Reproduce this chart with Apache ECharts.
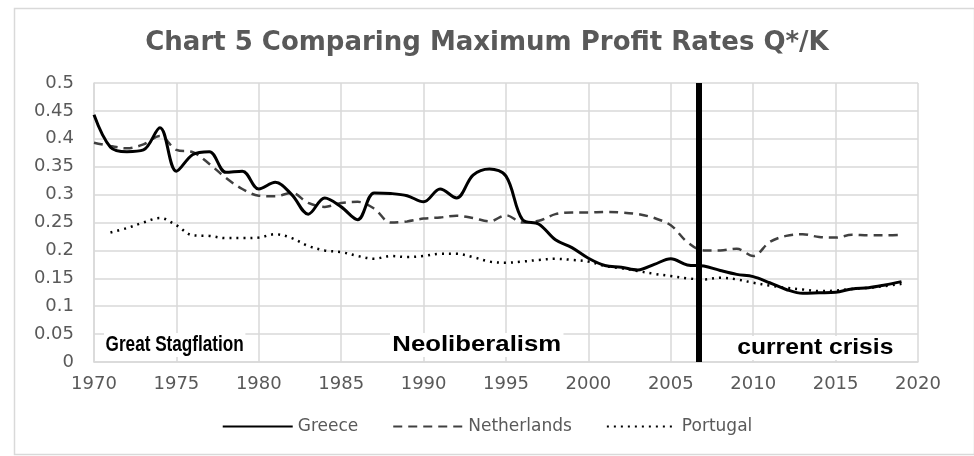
<!DOCTYPE html>
<html>
<head>
<meta charset="utf-8">
<script src="https://cdn.jsdelivr.net/npm/echarts@6/dist/echarts.min.js"></script>
<style>
  html, body { margin: 0; padding: 0; background: #fff; }
  #pic1 { width: 974px; height: 456px; }
</style>
</head>
<body>
<div id="pic1"></div>
<script>
var years = [];
for (var y = 1970; y <= 2019; y++) years.push(y);

var greece = [0.443, 0.385, 0.377, 0.38, 0.42, 0.342, 0.372, 0.377, 0.34, 0.342,
    0.31, 0.322, 0.3, 0.265, 0.294, 0.278, 0.255, 0.303, 0.302, 0.298,
    0.287, 0.31, 0.294, 0.335, 0.346, 0.333, 0.255, 0.247, 0.219, 0.205,
    0.186, 0.173, 0.17, 0.165, 0.175, 0.185, 0.174, 0.172, 0.164, 0.157,
    0.153, 0.142, 0.13, 0.123, 0.124, 0.125, 0.131, 0.133, 0.138, 0.144];

var netherlands = [0.393, 0.387, 0.383, 0.39, 0.405, 0.38, 0.376, 0.355, 0.33, 0.31,
    0.298, 0.297, 0.303, 0.285, 0.278, 0.285, 0.287, 0.275, 0.25, 0.252,
    0.257, 0.259, 0.262, 0.258, 0.252, 0.263, 0.25, 0.253, 0.265, 0.268,
    0.268, 0.269, 0.268, 0.265, 0.258, 0.245, 0.215, 0.2, 0.2, 0.203,
    0.19, 0.215, 0.226, 0.229, 0.224, 0.223, 0.228, 0.227, 0.227, 0.228];

var portugal = [null, 0.232, 0.24, 0.25, 0.258, 0.245, 0.227, 0.226, 0.222, 0.222,
    0.223, 0.229, 0.222, 0.208, 0.2, 0.197, 0.19, 0.185, 0.19, 0.188,
    0.19, 0.194, 0.194, 0.188, 0.18, 0.178, 0.18, 0.183, 0.185, 0.183,
    0.18, 0.172, 0.168, 0.163, 0.158, 0.154, 0.15, 0.148, 0.151, 0.148,
    0.142, 0.137, 0.133, 0.13, 0.127, 0.128, 0.131, 0.133, 0.136, 0.14];

var crisisYear = 2006.7;

function pairs(vals) {
    return years.map(function (yr, i) { return [yr, vals[i]]; });
}

var myChart = echarts.init(document.getElementById('pic1'));

var grayText = '#595959';
var gridColor = '#d9d9d9';
var labelFont = 'bold 22px "Liberation Sans", sans-serif';

var option = {
    backgroundColor: '#fff',
    animation: false,
    title: {
        text: 'Chart 5 Comparing Maximum Profit Rates Q*/K',
        left: 'center',
        top: 25,
        textStyle: {
            color: grayText,
            fontFamily: 'DejaVu Sans',
            fontWeight: 'bold',
            fontSize: 26
        }
    },
    grid: {
        left: 94,
        right: 56,
        top: 83,
        bottom: 94
    },
    legend: {
        bottom: 16,
        left: 'center',
        itemWidth: 70,
        itemHeight: 12,
        itemGap: 34,
        itemStyle: { opacity: 0 },
        textStyle: { color: grayText, fontFamily: 'DejaVu Sans', fontSize: 17 },
        data: ['Greece', 'Netherlands', 'Portugal']
    },
    xAxis: {
        type: 'value',
        min: 1970,
        max: 2020,
        interval: 5,
        axisLine: { show: true, lineStyle: { color: gridColor, width: 1.5 } },
        axisTick: { show: false },
        axisLabel: {
            color: grayText, fontFamily: 'DejaVu Sans', fontSize: 18, margin: 13,
            formatter: function (v) { return String(v); }
        },
        splitLine: { show: true, lineStyle: { color: gridColor, width: 1.5 } }
    },
    yAxis: {
        type: 'value',
        min: 0,
        max: 0.5,
        interval: 0.05,
        axisLine: { show: true, lineStyle: { color: gridColor, width: 1.5 } },
        axisTick: { show: false },
        axisLabel: {
            color: grayText, fontFamily: 'DejaVu Sans', fontSize: 18, margin: 20,
            formatter: function (v) { return String(Math.round(v * 100) / 100); }
        },
        splitLine: { show: true, lineStyle: { color: gridColor, width: 1.5 } }
    },
    series: [
        {
            name: 'Greece',
            type: 'line',
            smooth: 0.35,
            showSymbol: false,
            symbol: 'none',
            data: pairs(greece),
            itemStyle: { color: '#000' },
            lineStyle: { color: '#000', width: 3 },
            z: 5,
            markLine: {
                silent: true,
                symbol: 'none',
                label: { show: false },
                lineStyle: { color: '#000', width: 6, type: 'solid' },
                data: [{ xAxis: crisisYear }]
            }
        },
        {
            name: 'Netherlands',
            type: 'line',
            smooth: 0.35,
            showSymbol: false,
            symbol: 'none',
            data: pairs(netherlands),
            itemStyle: { color: '#404040' },
            lineStyle: { color: '#404040', width: 2.5, type: [9, 6] },
            z: 4
        },
        {
            name: 'Portugal',
            type: 'line',
            smooth: 0.35,
            showSymbol: false,
            symbol: 'none',
            data: pairs(portugal),
            itemStyle: { color: '#000' },
            lineStyle: { color: '#000', width: 2.5, type: [2, 5] },
            z: 3
        }
    ],
    graphic: [
        {
            type: 'rect',
            left: 12, top: 6,
            shape: { width: 960, height: 446 },
            style: { fill: 'none', stroke: '#d9d9d9', lineWidth: 1.5 },
            silent: true, z: -1
        },
        {
            type: 'text', x: 104, y: 333, scaleX: 0.78,
            style: {
                text: 'Great Stagflation', fill: '#000', font: labelFont,
                verticalAlign: 'top', backgroundColor: '#fff', padding: [1, 2]
            }, z: 10
        },
        {
            type: 'text', x: 390, y: 333, scaleX: 1.17,
            style: {
                text: 'Neoliberalism', fill: '#000', font: labelFont,
                verticalAlign: 'top', backgroundColor: '#fff', padding: [1, 2]
            }, z: 10
        },
        {
            type: 'text', x: 735, y: 336, scaleX: 1.12,
            style: {
                text: 'current crisis', fill: '#000', font: labelFont,
                verticalAlign: 'top', backgroundColor: '#fff', padding: [1, 2]
            }, z: 10
        }
    ]
};

myChart.setOption(option);
</script>
</body>
</html>
